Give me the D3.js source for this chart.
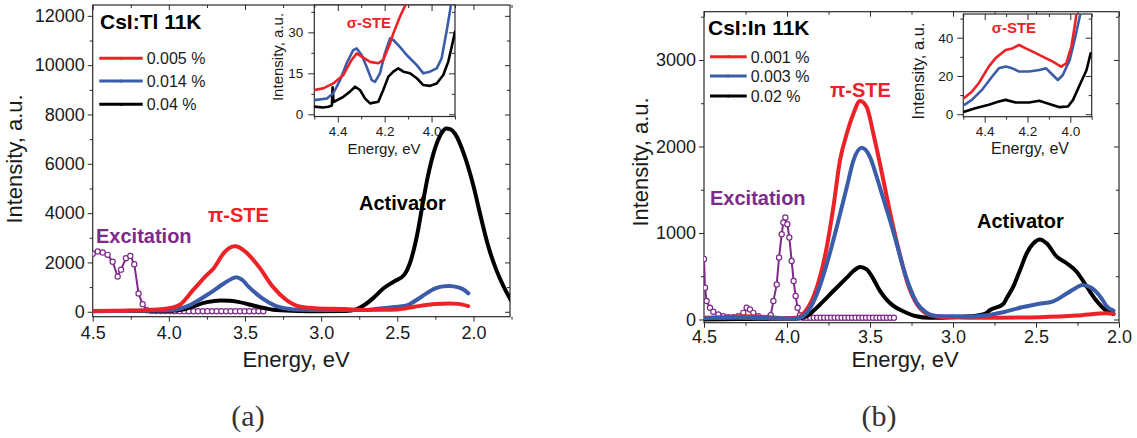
<!DOCTYPE html>
<html>
<head>
<meta charset="utf-8">
<script src="https://cdn.jsdelivr.net/npm/d3@7"></script>
<style>
  html, body { margin: 0; padding: 0; background: #fff; }
  svg { display: block; font-family: "Liberation Sans", Arial, sans-serif; }
</style>
</head>
<body>
<svg id="fig" width="1137" height="438"></svg>
<script>
// ================= CsI:Tl 11K (panel a) =================
const tlTitle = "CsI:Tl 11K";
const tlLegend = ["0.005 %", "0.014 %", "0.04 %"];
const tlXTicks = [4.5, 4.0, 3.5, 3.0, 2.5, 2.0];
const tlXMinor = [4.25, 3.75, 3.25, 2.75, 2.25, 1.75];
const tlYTicks = [0, 2000, 4000, 6000, 8000, 10000, 12000];
const tlYMinor = [1000, 3000, 5000, 7000, 9000, 11000];

// emission spectra [energy eV, intensity a.u.]
const tlRed = [
  [4.50, 30], [4.30, 45], [4.15, 60], [4.05, 100], [3.99, 150], [3.93, 272], [3.84, 884],
  [3.75, 1496], [3.705, 1768], [3.636, 2407], [3.60, 2600], [3.568, 2652], [3.535, 2600],
  [3.50, 2448], [3.41, 1836], [3.318, 1020], [3.227, 476], [3.136, 204], [3.023, 136],
  [2.84, 109], [2.727, 75], [2.60, 80], [2.50, 95], [2.386, 204], [2.25, 313], [2.159, 340],
  [2.10, 320], [2.034, 231]
];
const tlBlue = [
  [4.50, 20], [4.20, 40], [3.977, 68], [3.886, 204], [3.75, 680], [3.636, 1156], [3.59, 1330],
  [3.557, 1400], [3.52, 1300], [3.477, 1020], [3.386, 544], [3.295, 231], [3.182, 95],
  [2.955, 68], [2.727, 68], [2.614, 136], [2.50, 200], [2.432, 272], [2.341, 612], [2.25, 952],
  [2.20, 1030], [2.159, 1047], [2.10, 990], [2.068, 911], [2.034, 748]
];
const tlBlack = [
  [4.50, 30], [4.20, 30], [3.977, 40], [3.90, 100], [3.84, 220], [3.75, 390], [3.66, 460],
  [3.60, 450], [3.545, 400], [3.432, 231], [3.295, 68], [3.15, 30], [3.068, 25], [2.84, 30],
  [2.77, 100], [2.727, 231], [2.66, 544], [2.59, 952], [2.523, 1224], [2.455, 1496],
  [2.41, 2108], [2.364, 3300], [2.344, 4000], [2.30, 5469], [2.256, 6552], [2.211, 7230],
  [2.178, 7433], [2.15, 7400], [2.122, 7230], [2.056, 6280], [2.00, 5100], [1.95, 3800],
  [1.90, 2600], [1.85, 1700], [1.80, 1000], [1.755, 480]
];
// excitation spectrum (open circles)
const tlExc = [
  [4.500, 2350], [4.467, 2448], [4.434, 2406], [4.402, 2308], [4.369, 2028], [4.336, 1427],
  [4.314, 1707], [4.282, 2168], [4.253, 2266], [4.227, 1931], [4.199, 741], [4.172, 308],
  [4.144, 60], [4.113, 35], [4.083, 30], [4.052, 30], [4.022, 28], [3.991, 28], [3.961, 25],
  [3.930, 25], [3.899, 25], [3.869, 22], [3.838, 22], [3.808, 22], [3.777, 20], [3.747, 20],
  [3.716, 20], [3.686, 20], [3.655, 20], [3.624, 18], [3.594, 18], [3.563, 18], [3.533, 18],
  [3.502, 18], [3.472, 18], [3.441, 18], [3.411, 18], [3.380, 18]
];
// inset: sigma-STE region
const tlInXTicks = [4.4, 4.2, 4.0];
const tlInXMinor = [4.5, 4.3, 4.1, 3.9];
const tlInYTicks = [0, 15, 30];
const tlInYMinor = [7.5, 22.5, 37.5];
const tlInRed = [
  [4.500, 8.9], [4.462, 9.5], [4.419, 11.3], [4.376, 14.4], [4.341, 19.9], [4.319, 22.3],
  [4.298, 21.1], [4.262, 19.2], [4.227, 18.7], [4.206, 19.9], [4.177, 26.0], [4.163, 29.6],
  [4.135, 35.7], [4.106, 41.0], [4.070, 48.0]
];
const tlInBlue = [
  [4.500, 5.2], [4.446, 5.8], [4.419, 7.7], [4.390, 12.5], [4.362, 18.7], [4.334, 23.5],
  [4.319, 24.1], [4.298, 21.7], [4.277, 17.4], [4.255, 12.5], [4.241, 11.9], [4.220, 15.0],
  [4.199, 22.3], [4.177, 27.8], [4.163, 27.2], [4.135, 24.7], [4.106, 21.7], [4.063, 18.0],
  [4.035, 15.0], [4.007, 15.6], [3.978, 16.8], [3.957, 20.5], [3.935, 30.8], [3.921, 38.0],
  [3.909, 45.0]
];
const tlInBlack = [
  [4.500, 2.8], [4.462, 2.5], [4.440, 2.8], [4.425, 3.2], [4.422, 9.9], [4.418, 4.5],
  [4.376, 6.4], [4.348, 8.3], [4.326, 10.1], [4.305, 8.9], [4.284, 5.8], [4.262, 4.0],
  [4.227, 4.6], [4.206, 8.9], [4.184, 13.8], [4.163, 15.6], [4.142, 16.8], [4.120, 15.6],
  [4.092, 15.0], [4.063, 13.2], [4.035, 10.7], [4.007, 10.4], [3.978, 11.3], [3.950, 14.4],
  [3.929, 19.2], [3.914, 24.7], [3.900, 30.2]
];

// ================= CsI:In 11K (panel b) =================
const inTitle = "CsI:In 11K";
const inLegend = ["0.001 %", "0.003 %", "0.02 %"];
const inXTicks = [4.5, 4.0, 3.5, 3.0, 2.5, 2.0];
const inXMinor = [4.25, 3.75, 3.25, 2.75, 2.25];
const inYTicks = [0, 1000, 2000, 3000];
const inYMinor = [500, 1500, 2500, 3500];

const inRed = [
  [4.50, 20], [4.40, 25], [4.30, 35], [4.25, 38], [4.20, 35], [4.10, 25], [4.00, 15],
  [3.942, 19], [3.881, 116], [3.821, 367], [3.761, 832], [3.721, 1296], [3.681, 1837],
  [3.64, 2147], [3.60, 2379], [3.56, 2526], [3.52, 2456], [3.48, 2150], [3.44, 1800],
  [3.40, 1430], [3.361, 1080], [3.316, 720], [3.272, 410], [3.228, 210], [3.162, 70],
  [3.10, 35], [3.029, 27], [2.80, 20], [2.60, 22], [2.476, 27], [2.254, 46], [2.077, 73],
  [2.033, 65]
];
const inBlue = [
  [4.50, 15], [4.30, 20], [4.10, 15], [3.942, 12], [3.881, 77], [3.821, 290], [3.761, 638],
  [3.701, 1064], [3.64, 1528], [3.60, 1837], [3.55, 1984], [3.50, 1876], [3.46, 1650],
  [3.42, 1400], [3.38, 1150], [3.34, 880], [3.30, 600], [3.26, 370], [3.22, 200], [3.16, 80],
  [3.10, 40], [3.029, 38], [2.90, 35], [2.808, 46], [2.697, 84], [2.586, 141], [2.496, 177],
  [2.396, 210], [2.315, 300], [2.255, 370], [2.22, 400], [2.17, 370], [2.144, 332],
  [2.10, 230], [2.077, 160], [2.033, 103]
];
const inBlack = [
  [4.50, 0], [4.30, 5], [4.10, 10], [3.942, 10], [3.881, 39], [3.801, 174], [3.721, 329],
  [3.64, 483], [3.60, 561], [3.56, 607], [3.52, 580], [3.48, 470], [3.44, 330], [3.40, 230],
  [3.361, 160], [3.294, 90], [3.228, 40], [3.139, 19], [3.00, 25], [2.918, 35], [2.878, 40],
  [2.808, 65], [2.777, 110], [2.697, 180], [2.677, 245], [2.637, 380], [2.596, 572],
  [2.556, 765], [2.516, 880], [2.476, 926], [2.436, 880], [2.375, 726], [2.315, 650],
  [2.255, 553], [2.21, 427], [2.144, 237], [2.077, 103], [2.033, 65]
];
const inExc = [
  [4.500, 700], [4.494, 367], [4.484, 213], [4.464, 135], [4.444, 89], [4.414, 58],
  [4.384, 39], [4.354, 27], [4.323, 27], [4.293, 39], [4.263, 77], [4.243, 135], [4.223, 116],
  [4.203, 77], [4.173, 39], [4.143, 19], [4.119, 19], [4.098, 50], [4.082, 213], [4.062, 406],
  [4.048, 716], [4.032, 986], [4.022, 1122], [4.010, 1180], [3.998, 1102], [3.986, 948],
  [3.972, 677], [3.960, 445], [3.948, 271], [3.936, 135], [3.922, 50], [3.902, 19],
  [3.881, 20], [3.860, 20], [3.839, 20], [3.818, 20], [3.797, 20], [3.776, 20], [3.755, 20],
  [3.734, 20], [3.713, 20], [3.692, 20], [3.671, 20], [3.650, 20], [3.629, 20], [3.608, 20],
  [3.587, 20], [3.566, 20], [3.545, 20], [3.524, 20], [3.503, 20], [3.482, 20], [3.461, 20],
  [3.440, 20], [3.419, 20], [3.398, 20], [3.377, 20], [3.356, 20]
];
const inInXTicks = [4.4, 4.2, 4.0];
const inInXMinor = [4.5, 4.3, 4.1, 3.9];
const inInYTicks = [0, 20, 40];
const inInYMinor = [10, 30, 50];
const inInRed = [
  [4.507, 7.5], [4.460, 11.8], [4.428, 16.2], [4.381, 24.9], [4.350, 29.2], [4.302, 33.6],
  [4.271, 34.4], [4.239, 36.2], [4.208, 34.4], [4.176, 32.7], [4.129, 30.1], [4.082, 27.5],
  [4.043, 24.9], [4.019, 26.6], [3.995, 35.3], [3.980, 45.7], [3.969, 54.0], [3.960, 62.0]
];
const inInBlue = [
  [4.507, 4.0], [4.460, 7.5], [4.413, 12.7], [4.365, 19.7], [4.334, 24.0], [4.302, 24.9],
  [4.271, 24.0], [4.239, 22.3], [4.192, 22.3], [4.145, 23.1], [4.113, 24.0], [4.082, 20.5],
  [4.058, 17.9], [4.035, 20.5], [4.003, 28.3], [3.980, 38.8], [3.956, 51.0], [3.948, 54.0],
  [3.940, 60.0]
];
const inInBlack = [
  [4.507, 0.9], [4.444, 3.1], [4.381, 4.9], [4.334, 6.6], [4.302, 7.5], [4.255, 6.1],
  [4.192, 6.1], [4.145, 7.0], [4.098, 5.4], [4.050, 3.7], [4.011, 4.0], [3.987, 7.5],
  [3.956, 15.3], [3.924, 23.1], [3.905, 31.8]
];

// ================= drawing =================
const RED = "#ec2227", BLUE = "#3b5ca8", BLACK = "#000000", PURPLE = "#7e2a8a";
const AXIS = "#2b2b2b", TEXT = "#1a1a1a";
const svg = d3.select("#fig");
let clipId = 0;

function styleAxis(g) {
  g.select(".domain").remove();
  g.selectAll(".tick line").attr("stroke", AXIS).attr("stroke-width", 1);
  g.selectAll(".tick text").attr("fill", TEXT).attr("font-family", "Liberation Sans, Arial, sans-serif");
}

// frame with ticks on all four sides (labels on bottom/left)
function frame(x, y, o) {
  const [xl, xr] = x.range(), [yb, yt] = y.range();
  const g = svg.append("g");
  g.append("rect").attr("x", xl).attr("y", yt).attr("width", xr - xl).attr("height", yb - yt)
    .attr("fill", o.fill || "none").attr("stroke", AXIS).attr("stroke-width", 1.2);

  const fmtX = d3.format(".1f");
  g.append("g").attr("transform", `translate(0,${yb})`)
    .call(d3.axisBottom(x).tickValues(o.xTicks).tickFormat(fmtX).tickSize(o.major).tickPadding(o.xPad))
    .call(styleAxis).selectAll("text").attr("font-size", o.fs);
  g.append("g").attr("transform", `translate(0,${yb})`)
    .call(d3.axisBottom(x).tickValues(o.xMinor).tickFormat("").tickSize(o.minor)).call(styleAxis);
  g.append("g").attr("transform", `translate(0,${yt})`)
    .call(d3.axisTop(x).tickValues(o.xTicks).tickFormat("").tickSize(-o.major)).call(styleAxis);
  g.append("g").attr("transform", `translate(0,${yt})`)
    .call(d3.axisTop(x).tickValues(o.xMinor).tickFormat("").tickSize(-o.minor)).call(styleAxis);

  g.append("g").attr("transform", `translate(${xl},0)`)
    .call(d3.axisLeft(y).tickValues(o.yTicks).tickFormat(d3.format("d")).tickSize(o.major).tickPadding(o.yPad))
    .call(styleAxis).selectAll("text").attr("font-size", o.fs);
  g.append("g").attr("transform", `translate(${xl},0)`)
    .call(d3.axisLeft(y).tickValues(o.yMinor).tickFormat("").tickSize(o.minor)).call(styleAxis);
  g.append("g").attr("transform", `translate(${xr},0)`)
    .call(d3.axisRight(y).tickValues(o.yTicks).tickFormat("").tickSize(-o.major)).call(styleAxis);
  g.append("g").attr("transform", `translate(${xr},0)`)
    .call(d3.axisRight(y).tickValues(o.yMinor).tickFormat("").tickSize(-o.minor)).call(styleAxis);

  // axis titles
  g.append("text").attr("x", o.xTitle[0]).attr("y", o.xTitle[1]).attr("text-anchor", "middle")
    .attr("font-size", o.titleFs).attr("fill", TEXT).text("Energy, eV");
  g.append("text").attr("transform", `translate(${o.yTitle[0]},${o.yTitle[1]}) rotate(-90)`)
    .attr("text-anchor", "middle").attr("font-size", o.yTitleFs || o.titleFs).attr("fill", TEXT)
    .text("Intensity, a.u.");

  const id = "clip" + (clipId++);
  svg.append("clipPath").attr("id", id).append("rect")
    .attr("x", xl).attr("y", yt).attr("width", xr - xl).attr("height", yb - yt);
  return svg.append("g").attr("clip-path", `url(#${id})`);
}

function curve(g, x, y, data, color, width, smooth) {
  const line = d3.line().x(d => x(d[0])).y(d => y(d[1]))
    .curve(smooth ? d3.curveMonotoneX : d3.curveLinear);
  g.append("path").datum(data).attr("d", line).attr("fill", "none")
    .attr("stroke", color).attr("stroke-width", width)
    .attr("stroke-linejoin", "round").attr("stroke-linecap", "round");
}

function excitation(g, x, y, data) {
  curve(g, x, y, data, PURPLE, 2, false);
  g.selectAll(null).data(data).join("circle")
    .attr("cx", d => x(d[0])).attr("cy", d => y(d[1])).attr("r", 2.6)
    .attr("fill", "#fff").attr("stroke", PURPLE).attr("stroke-width", 1.2);
}

function label(x, y, text, color, size, weight) {
  svg.append("text").attr("x", x).attr("y", y).attr("font-size", size)
    .attr("font-weight", weight || "bold").attr("fill", color).text(text);
}

function legend(x0, x1, ys, names, colors) {
  names.forEach((n, i) => {
    svg.append("line").attr("x1", x0).attr("x2", x1).attr("y1", ys[i]).attr("y2", ys[i])
      .attr("stroke", colors[i]).attr("stroke-width", 3);
    svg.append("circle").attr("cx", (x0 + x1) / 2).attr("cy", ys[i]).attr("r", 1.6)
      .attr("fill", colors[i]);
    svg.append("text").attr("x", x1 + 4).attr("y", ys[i] + 6).attr("font-size", 16)
      .attr("fill", TEXT).text(n);
  });
}

// ---------- panel (a) ----------
{
  const x = d3.scaleLinear().domain([4.5, 1.76]).range([92.7, 510]);
  const y = d3.scaleLinear().domain([-200, 12440]).range([316.7, 5]);
  const g = frame(x, y, {
    xTicks: tlXTicks, xMinor: tlXMinor, yTicks: tlYTicks, yMinor: tlYMinor,
    major: 5, minor: 3, xPad: 5, yPad: 3, fs: 18, titleFs: 22,
    xTitle: [296, 367], yTitle: [22, 159]
  });
  excitation(g, x, y, tlExc);
  curve(g, x, y, tlBlack, BLACK, 4, true);
  curve(g, x, y, tlBlue, BLUE, 4, true);
  curve(g, x, y, tlRed, RED, 4, true);

  label(100, 29, tlTitle, BLACK, 21);
  legend(99.3, 142.7, [58.3, 81, 104.3], tlLegend, [RED, BLUE, BLACK]);
  label(96, 243, "Excitation", PURPLE, 20);
  label(208, 221.7, "π-STE", RED, 20);
  label(359, 210, "Activator", BLACK, 20);

  // inset
  const xi = d3.scaleLinear().domain([4.5, 3.9]).range([314.3, 455]);
  const yi = d3.scaleLinear().domain([-0.8, 40]).range([116.5, 5]);
  const gi = frame(xi, yi, {
    xTicks: tlInXTicks, xMinor: tlInXMinor, yTicks: tlInYTicks, yMinor: tlInYMinor,
    major: 6, minor: 3, xPad: 4, yPad: 5, fs: 13.5, titleFs: 15, yTitleFs: 15,
    xTitle: [384, 154], yTitle: [283, 57], fill: "#fff"
  });
  curve(gi, xi, yi, tlInBlack, BLACK, 2.6, false);
  curve(gi, xi, yi, tlInBlue, BLUE, 2.6, false);
  curve(gi, xi, yi, tlInRed, RED, 2.6, false);
  label(346.7, 28.3, "σ-STE", RED, 15);
}

// ---------- panel (b) ----------
{
  const x = d3.scaleLinear().domain([4.5, 2.0]).range([704, 1119]);
  const y = d3.scaleLinear().domain([-37, 3558]).range([322.7, 11.7]);
  const g = frame(x, y, {
    xTicks: inXTicks, xMinor: inXMinor, yTicks: inYTicks, yMinor: inYMinor,
    major: 5, minor: 3, xPad: 3, yPad: 3, fs: 18, titleFs: 22,
    xTitle: [905, 367], yTitle: [648, 162]
  });
  excitation(g, x, y, inExc);
  curve(g, x, y, inBlack, BLACK, 4, true);
  curve(g, x, y, inRed, RED, 4, true);
  curve(g, x, y, inBlue, BLUE, 4, true);

  label(708, 35, inTitle, BLACK, 21);
  legend(710, 746.7, [56.7, 76, 96], inLegend, [RED, BLUE, BLACK]);
  label(710, 205, "Excitation", PURPLE, 20);
  label(830, 96.7, "π-STE", RED, 20);
  label(977, 228, "Activator", BLACK, 20);

  // inset
  const xi = d3.scaleLinear().domain([4.5, 3.9]).range([963.3, 1091.7]);
  const yi = d3.scaleLinear().domain([-1.3, 52.4]).range([116.7, 14]);
  const gi = frame(xi, yi, {
    xTicks: inInXTicks, xMinor: inInXMinor, yTicks: inInYTicks, yMinor: inInYMinor,
    major: 6, minor: 3, xPad: 4, yPad: 4, fs: 13.5, titleFs: 16, yTitleFs: 16.5,
    xTitle: [1030, 154], yTitle: [924, 71], fill: "#fff"
  });
  curve(gi, xi, yi, inInBlack, BLACK, 2.6, false);
  curve(gi, xi, yi, inInBlue, BLUE, 2.6, false);
  curve(gi, xi, yi, inInRed, RED, 2.6, false);
  label(991.7, 33.3, "σ-STE", RED, 15);
}

// sub-figure captions
svg.append("text").attr("x", 248).attr("y", 426).attr("text-anchor", "middle")
  .attr("font-family", "Liberation Serif, serif").attr("font-size", 30).attr("fill", "#333").text("(a)");
svg.append("text").attr("x", 879).attr("y", 426).attr("text-anchor", "middle")
  .attr("font-family", "Liberation Serif, serif").attr("font-size", 30).attr("fill", "#333").text("(b)");
</script>
</body>
</html>
